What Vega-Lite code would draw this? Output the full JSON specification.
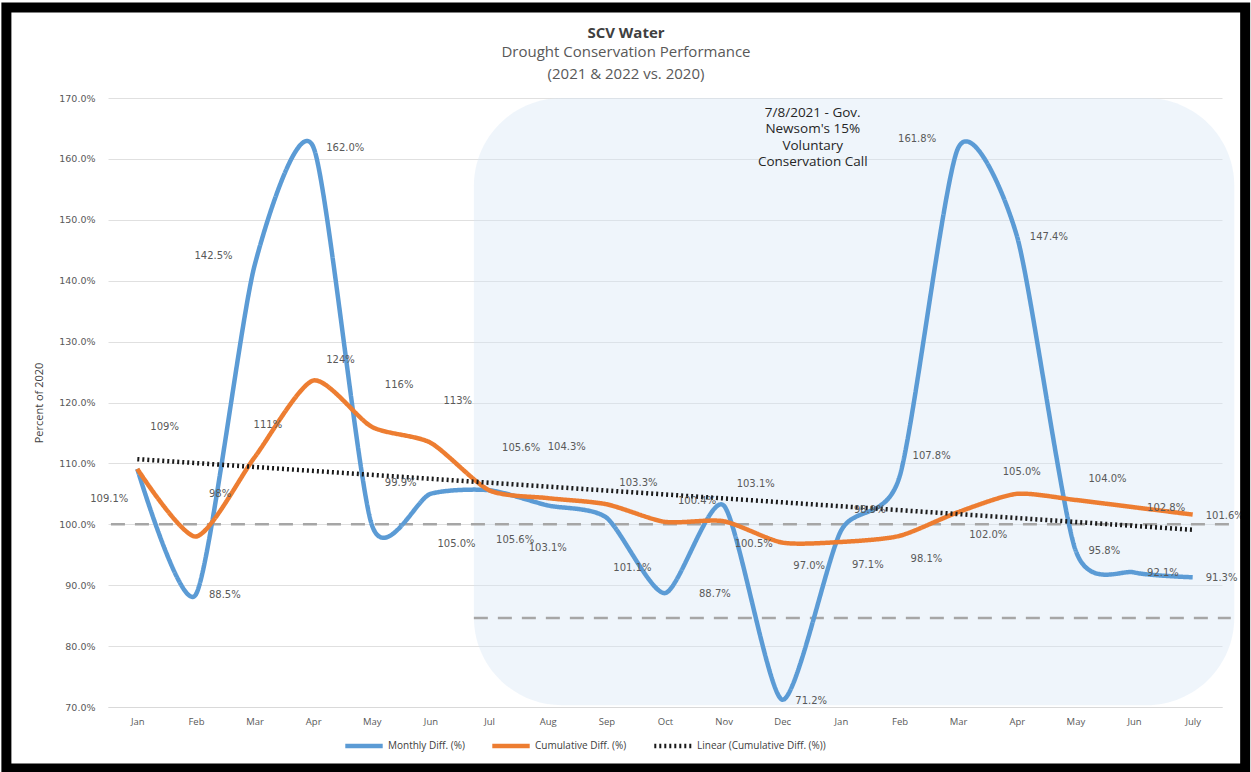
{
  "$schema": "https://vega.github.io/schema/vega-lite/v6.json",
  "width": 1114,
  "height": 609,
  "autosize": {"type": "none"},
  "padding": {"left": 108, "top": 98, "right": 29, "bottom": 65},
  "background": "white",
  "title": {
    "text": "SCV Water",
    "subtitle": ["Drought Conservation Performance", "(2021 & 2022 vs. 2020)"],
    "font": "Open Sans", "fontSize": 15, "fontWeight": "bold", "color": "#404040",
    "subtitleFont": "Open Sans", "subtitleFontSize": 15, "subtitleColor": "#595959",
    "subtitleLineHeight": 22, "subtitlePadding": 4,
    "anchor": "middle", "dx": -39, "dy": 91, "offset": 12
  },
  "config": {
    "view": {"stroke": null},
    "axis": {"labelFont": "DejaVu Sans", "labelColor": "#595959", "titleFont": "Open Sans"}
  },
  "data": {
    "values": [
      {"k": "M0", "i": 0, "month": "Jan", "series": "Monthly Diff. (%)", "v": 109.1, "label": "109.1%"},
      {"k": "M1", "i": 1, "month": "Feb", "series": "Monthly Diff. (%)", "v": 88.5, "label": "88.5%"},
      {"k": "M2", "i": 2, "month": "Mar", "series": "Monthly Diff. (%)", "v": 142.5, "label": "142.5%"},
      {"k": "M3", "i": 3, "month": "Apr", "series": "Monthly Diff. (%)", "v": 162.0, "label": "162.0%"},
      {"k": "M4", "i": 4, "month": "May", "series": "Monthly Diff. (%)", "v": 99.9, "label": "99.9%"},
      {"k": "M5", "i": 5, "month": "Jun", "series": "Monthly Diff. (%)", "v": 105.0, "label": "105.0%"},
      {"k": "M6", "i": 6, "month": "Jul", "series": "Monthly Diff. (%)", "v": 105.6, "label": "105.6%"},
      {"k": "M7", "i": 7, "month": "Aug", "series": "Monthly Diff. (%)", "v": 103.1, "label": "103.1%"},
      {"k": "M8", "i": 8, "month": "Sep", "series": "Monthly Diff. (%)", "v": 101.1, "label": "101.1%"},
      {"k": "M9", "i": 9, "month": "Oct", "series": "Monthly Diff. (%)", "v": 88.7, "label": "88.7%"},
      {"k": "M10", "i": 10, "month": "Nov", "series": "Monthly Diff. (%)", "v": 103.1, "label": "103.1%"},
      {"k": "M11", "i": 11, "month": "Dec", "series": "Monthly Diff. (%)", "v": 71.2, "label": "71.2%"},
      {"k": "M12", "i": 12, "month": "Jan", "series": "Monthly Diff. (%)", "v": 98.9, "label": "98.9%"},
      {"k": "M13", "i": 13, "month": "Feb", "series": "Monthly Diff. (%)", "v": 107.8, "label": "107.8%"},
      {"k": "M14", "i": 14, "month": "Mar", "series": "Monthly Diff. (%)", "v": 161.8, "label": "161.8%"},
      {"k": "M15", "i": 15, "month": "Apr", "series": "Monthly Diff. (%)", "v": 147.4, "label": "147.4%"},
      {"k": "M16", "i": 16, "month": "May", "series": "Monthly Diff. (%)", "v": 95.8, "label": "95.8%"},
      {"k": "M17", "i": 17, "month": "Jun", "series": "Monthly Diff. (%)", "v": 92.1, "label": "92.1%"},
      {"k": "M18", "i": 18, "month": "July", "series": "Monthly Diff. (%)", "v": 91.3, "label": "91.3%"},
      {"k": "C0", "i": 0, "month": "Jan", "series": "Cumulative Diff. (%)", "v": 109.1, "label": "109%"},
      {"k": "C1", "i": 1, "month": "Feb", "series": "Cumulative Diff. (%)", "v": 98.0, "label": "98%"},
      {"k": "C2", "i": 2, "month": "Mar", "series": "Cumulative Diff. (%)", "v": 111.0, "label": "111%"},
      {"k": "C3", "i": 3, "month": "Apr", "series": "Cumulative Diff. (%)", "v": 123.6, "label": "124%"},
      {"k": "C4", "i": 4, "month": "May", "series": "Cumulative Diff. (%)", "v": 116.0, "label": "116%"},
      {"k": "C5", "i": 5, "month": "Jun", "series": "Cumulative Diff. (%)", "v": 113.4, "label": "113%"},
      {"k": "C6", "i": 6, "month": "Jul", "series": "Cumulative Diff. (%)", "v": 105.6, "label": "105.6%"},
      {"k": "C7", "i": 7, "month": "Aug", "series": "Cumulative Diff. (%)", "v": 104.3, "label": "104.3%"},
      {"k": "C8", "i": 8, "month": "Sep", "series": "Cumulative Diff. (%)", "v": 103.3, "label": "103.3%"},
      {"k": "C9", "i": 9, "month": "Oct", "series": "Cumulative Diff. (%)", "v": 100.4, "label": "100.4%"},
      {"k": "C10", "i": 10, "month": "Nov", "series": "Cumulative Diff. (%)", "v": 100.5, "label": "100.5%"},
      {"k": "C11", "i": 11, "month": "Dec", "series": "Cumulative Diff. (%)", "v": 97.0, "label": "97.0%"},
      {"k": "C12", "i": 12, "month": "Jan", "series": "Cumulative Diff. (%)", "v": 97.1, "label": "97.1%"},
      {"k": "C13", "i": 13, "month": "Feb", "series": "Cumulative Diff. (%)", "v": 98.1, "label": "98.1%"},
      {"k": "C14", "i": 14, "month": "Mar", "series": "Cumulative Diff. (%)", "v": 102.0, "label": "102.0%"},
      {"k": "C15", "i": 15, "month": "Apr", "series": "Cumulative Diff. (%)", "v": 105.0, "label": "105.0%"},
      {"k": "C16", "i": 16, "month": "May", "series": "Cumulative Diff. (%)", "v": 104.0, "label": "104.0%"},
      {"k": "C17", "i": 17, "month": "Jun", "series": "Cumulative Diff. (%)", "v": 102.8, "label": "102.8%"},
      {"k": "C18", "i": 18, "month": "July", "series": "Cumulative Diff. (%)", "v": 101.6, "label": "101.6%"},
      {"k": "T0", "i": 0, "month": "Jan", "series": "Linear (Cumulative Diff. (%))", "v": 110.7, "label": ""},
      {"k": "T18", "i": 18, "month": "July", "series": "Linear (Cumulative Diff. (%))", "v": 99.1, "label": ""}
    ]
  },
  "layer": [
    {
      "data": {"values": [{}]},
      "mark": {"type": "rect", "cornerRadius": 88, "fill": "#d6e5f4", "opacity": 0.4, "clip": false},
      "encoding": {
        "x": {"datum": 5.74, "type": "quantitative"},
        "x2": {"datum": 18.71},
        "y": {"datum": 170, "type": "quantitative"},
        "y2": {"datum": 70.3}
      }
    },
    {
      "data": {"values": [{}]},
      "mark": {"type": "rule", "stroke": "#a6a6a6", "strokeWidth": 2.5, "strokeDash": [14, 10], "clip": false},
      "encoding": {
        "x": {"datum": -0.45, "type": "quantitative"},
        "x2": {"datum": 18.65},
        "y": {"datum": 100, "type": "quantitative"}
      }
    },
    {
      "data": {"values": [{}]},
      "mark": {"type": "rule", "stroke": "#a6a6a6", "strokeWidth": 2.5, "strokeDash": [14, 10], "clip": false},
      "encoding": {
        "x": {"datum": 5.74, "type": "quantitative"},
        "x2": {"datum": 18.65},
        "y": {"datum": 84.6, "type": "quantitative"}
      }
    },
    {
      "mark": {"type": "line", "interpolate": "cardinal", "tension": 0.3, "clip": false},
      "encoding": {
        "x": {
          "field": "i", "type": "quantitative",
          "scale": {"domain": [-0.5, 18.5], "nice": false, "zero": false},
          "axis": {
            "title": null, "values": [0,1,2,3,4,5,6,7,8,9,10,11,12,13,14,15,16,17,18],
            "labelExpr": "['Jan','Feb','Mar','Apr','May','Jun','Jul','Aug','Sep','Oct','Nov','Dec','Jan','Feb','Mar','Apr','May','Jun','July'][datum.value]",
            "grid": false, "ticks": false, "domain": true, "domainColor": "#d9d9d9",
            "labelFont": "Open Sans", "labelFontSize": 9.5, "labelColor": "#595959", "labelPadding": 9
          }
        },
        "y": {
          "field": "v", "type": "quantitative",
          "scale": {"domain": [70, 170], "nice": false, "zero": false},
          "axis": {
            "title": "Percent of 2020", "titleFontSize": 11, "titleFontWeight": "normal", "titleColor": "#404040", "titlePadding": 14,
            "values": [70, 80, 90, 100, 110, 120, 130, 140, 150, 160, 170],
            "labelExpr": "format(datum.value, '.1f') + '%'",
            "labelFontSize": 9.5, "labelPadding": 13,
            "grid": true, "gridColor": "#e0e0e0", "domain": false, "ticks": false
          }
        },
        "color": {
          "field": "series", "type": "nominal",
          "scale": {"domain": ["Monthly Diff. (%)", "Cumulative Diff. (%)", "Linear (Cumulative Diff. (%))"], "range": ["#5b9bd5", "#ed7d31", "#1a1a1a"]},
          "legend": {"title": null, "orient": "none", "legendX": 235, "legendY": 627, "direction": "horizontal", "symbolType": "stroke", "symbolSize": 1400, "labelFont": "Open Sans", "labelFontSize": 10, "labelColor": "#404040", "columnPadding": 18, "labelOffset": 3}
        },
        "strokeDash": {
          "field": "series", "type": "nominal",
          "scale": {"domain": ["Monthly Diff. (%)", "Cumulative Diff. (%)", "Linear (Cumulative Diff. (%))"], "range": [[1, 0], [1, 0], [2, 3]]},
          "legend": {"title": null, "orient": "none", "legendX": 235, "legendY": 627, "direction": "horizontal", "symbolType": "stroke", "symbolSize": 1400, "labelFont": "Open Sans", "labelFontSize": 10, "labelColor": "#404040", "columnPadding": 18, "labelOffset": 3}
        },
        "strokeWidth": {
          "field": "series", "type": "nominal",
          "scale": {"domain": ["Monthly Diff. (%)", "Cumulative Diff. (%)", "Linear (Cumulative Diff. (%))"], "range": [4.5, 4.5, 2.5]},
          "legend": {"title": null, "orient": "none", "legendX": 235, "legendY": 627, "direction": "horizontal", "symbolType": "stroke", "symbolSize": 1400, "labelFont": "Open Sans", "labelFontSize": 10, "labelColor": "#404040", "columnPadding": 18, "labelOffset": 3}
        }
      }
    },
    {
      "transform": [{"filter": {"field": "k", "oneOf": ["M1", "M3", "M11", "M15", "M16", "M17", "M18", "C17", "C18"]}}],
      "mark": {"type": "text", "font": "DejaVu Sans", "fontSize": 10, "fill": "#595959", "align": "left", "baseline": "middle", "dx": 13, "dy": 1, "clip": false},
      "encoding": {"x": {"field": "i", "type": "quantitative"}, "y": {"field": "v", "type": "quantitative"}, "text": {"field": "label"}}
    },
    {
      "transform": [{"filter": {"field": "k", "oneOf": ["M9"]}}],
      "mark": {"type": "text", "font": "DejaVu Sans", "fontSize": 10, "fill": "#595959", "align": "left", "baseline": "middle", "dx": 34, "dy": 1},
      "encoding": {"x": {"field": "i", "type": "quantitative"}, "y": {"field": "v", "type": "quantitative"}, "text": {"field": "label"}}
    },
    {
      "transform": [{"filter": {"field": "k", "oneOf": ["M2", "M14"]}}],
      "mark": {"type": "text", "font": "DejaVu Sans", "fontSize": 10, "fill": "#595959", "align": "right", "baseline": "middle", "dx": -22, "dy": -9},
      "encoding": {"x": {"field": "i", "type": "quantitative"}, "y": {"field": "v", "type": "quantitative"}, "text": {"field": "label"}}
    },
    {
      "transform": [{"filter": {"field": "k", "oneOf": ["M0"]}}],
      "mark": {"type": "text", "font": "DejaVu Sans", "fontSize": 10, "fill": "#595959", "align": "right", "baseline": "middle", "dx": -9, "dy": 30, "clip": false},
      "encoding": {"x": {"field": "i", "type": "quantitative"}, "y": {"field": "v", "type": "quantitative"}, "text": {"field": "label"}}
    },
    {
      "transform": [{"filter": {"field": "k", "oneOf": ["C0", "C1", "C4", "C5", "C6", "M4"]}}],
      "mark": {"type": "text", "font": "DejaVu Sans", "fontSize": 10, "fill": "#595959", "align": "left", "baseline": "middle", "dx": 13, "dy": -42},
      "encoding": {"x": {"field": "i", "type": "quantitative"}, "y": {"field": "v", "type": "quantitative"}, "text": {"field": "label"}}
    },
    {
      "transform": [{"filter": {"field": "k", "oneOf": ["C3", "C8", "C9", "C16", "M10", "M12", "M13"]}}],
      "mark": {"type": "text", "font": "DejaVu Sans", "fontSize": 10, "fill": "#595959", "align": "left", "baseline": "middle", "dx": 13, "dy": -21},
      "encoding": {"x": {"field": "i", "type": "quantitative"}, "y": {"field": "v", "type": "quantitative"}, "text": {"field": "label"}}
    },
    {
      "transform": [{"filter": {"field": "k", "oneOf": ["C2"]}}],
      "mark": {"type": "text", "font": "DejaVu Sans", "fontSize": 10, "fill": "#595959", "align": "left", "baseline": "middle", "dx": -1, "dy": -32},
      "encoding": {"x": {"field": "i", "type": "quantitative"}, "y": {"field": "v", "type": "quantitative"}, "text": {"field": "label"}}
    },
    {
      "transform": [{"filter": {"field": "k", "oneOf": ["C7"]}}],
      "mark": {"type": "text", "font": "DejaVu Sans", "fontSize": 10, "fill": "#595959", "align": "left", "baseline": "middle", "dx": 0, "dy": -51},
      "encoding": {"x": {"field": "i", "type": "quantitative"}, "y": {"field": "v", "type": "quantitative"}, "text": {"field": "label"}}
    },
    {
      "transform": [{"filter": {"field": "k", "oneOf": ["C10", "C11", "C12", "C13", "C14"]}}],
      "mark": {"type": "text", "font": "DejaVu Sans", "fontSize": 10, "fill": "#595959", "align": "left", "baseline": "middle", "dx": 11, "dy": 23},
      "encoding": {"x": {"field": "i", "type": "quantitative"}, "y": {"field": "v", "type": "quantitative"}, "text": {"field": "label"}}
    },
    {
      "transform": [{"filter": {"field": "k", "oneOf": ["M5", "M6", "M8"]}}],
      "mark": {"type": "text", "font": "DejaVu Sans", "fontSize": 10, "fill": "#595959", "align": "left", "baseline": "middle", "dx": 7, "dy": 50},
      "encoding": {"x": {"field": "i", "type": "quantitative"}, "y": {"field": "v", "type": "quantitative"}, "text": {"field": "label"}}
    },
    {
      "transform": [{"filter": {"field": "k", "oneOf": ["M7"]}}],
      "mark": {"type": "text", "font": "DejaVu Sans", "fontSize": 10, "fill": "#595959", "align": "center", "baseline": "middle", "dx": 0, "dy": 43},
      "encoding": {"x": {"field": "i", "type": "quantitative"}, "y": {"field": "v", "type": "quantitative"}, "text": {"field": "label"}}
    },
    {
      "transform": [{"filter": {"field": "k", "oneOf": ["C15"]}}],
      "mark": {"type": "text", "font": "DejaVu Sans", "fontSize": 10, "fill": "#595959", "align": "center", "baseline": "middle", "dx": 5, "dy": -22},
      "encoding": {"x": {"field": "i", "type": "quantitative"}, "y": {"field": "v", "type": "quantitative"}, "text": {"field": "label"}}
    },
    {
      "data": {"values": [{}]},
      "mark": {"type": "text", "text": ["7/8/2021 - Gov.", "Newsom's 15%", "Voluntary", "Conservation Call"], "font": "Open Sans", "fontSize": 13.5, "fill": "#262626", "align": "center", "baseline": "top", "lineHeight": 16.5},
      "encoding": {"x": {"datum": 11.52, "type": "quantitative"}, "y": {"datum": 168.7, "type": "quantitative"}}
    },
    {
      "data": {"values": [{}]},
      "mark": {"type": "rect", "fill": null, "fillOpacity": 0, "stroke": "black", "strokeWidth": 10, "clip": false},
      "encoding": {
        "x": {"datum": -2.233, "type": "quantitative"},
        "x2": {"datum": 18.895},
        "y": {"datum": 184.86, "type": "quantitative"},
        "y2": {"datum": 59.9}
      }
    }
  ]
}
